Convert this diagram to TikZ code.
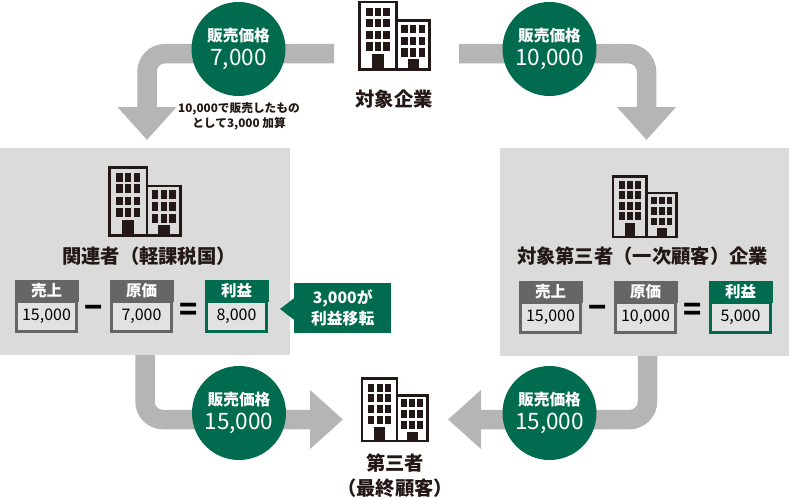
\documentclass[tikz,border=0pt]{standalone}
\usepackage{fontspec}
\setmainfont{Noto Sans CJK JP}
\usetikzlibrary{arrows.meta,positioning}
\definecolor{tgreen}{HTML}{006B4E}
\definecolor{tarrow}{HTML}{B5B5B5}
\definecolor{tpanel}{HTML}{DBDBDB}
\definecolor{tval}{HTML}{E2E2E2}
\definecolor{thead}{HTML}{666666}
\definecolor{tink}{HTML}{231815}
\tikzset{
  flow/.style={draw=tarrow,line width=19.5pt,rounded corners=18pt,-{Triangle[length=33pt,width=57pt]}},
  panel/.style={fill=tpanel,draw=none,inner sep=0pt,anchor=north west},
  pricecircle/.style={circle,fill=tgreen,minimum size=94pt,inner sep=0pt,text=white,align=center},
  lab/.style={text=tink,font=\fontsize{19.3}{25}\selectfont\bfseries,align=center,inner sep=0pt},
  note/.style={text=tink,font=\fontsize{11.7}{15}\selectfont\bfseries,align=center,inner sep=0pt},
  opsign/.style={text=black,font=\fontsize{30}{30}\selectfont\bfseries,inner sep=0pt},
  valbox/.style={fill=tval,draw=#1,line width=3pt,minimum width=60pt,minimum height=30pt,inner sep=0pt,anchor=north west,text=black,font=\fontsize{16}{16}\selectfont},
  headbox/.style={fill=#1,draw=#1,line width=0.5pt,minimum width=62.5pt,minimum height=20.5pt,inner sep=0pt,anchor=north west,text=white,font=\fontsize{15.5}{15.5}\selectfont\bfseries},
  callout/.style={fill=tgreen,text=white,inner sep=0pt,align=center,font=\fontsize{15.8}{21}\selectfont\bfseries},
}
\newcommand{\pricetag}[4]{\node[pricecircle] (#1) at (#2) {\fontsize{15.7}{18}\selectfont\bfseries #3\\[5.5pt]\fontsize{22.6}{23}\selectfont #4};}
\newcommand{\calcbox}[5]{%
  \node[valbox=#2] (#1v) at (#3,#4+20) {\raisebox{-1.2pt}{#5}};}
\newcommand{\calchead}[5]{%
  \node[headbox=#2] (#1h) at (#3,#4) {#5};}
\newcommand{\bldg}[3]{%
 \begin{scope}[shift={(#1,#2)},scale=#3]
  \draw[tink,line width=2.5pt] (1.3,2) rectangle (38.5,69.4);
  \draw[tink,line width=2.5pt] (38.5,20.3) rectangle (71.7,69.4);
  \foreach \xx in {8,16.7,25.3}\foreach \yy in {7.7,18.7,30.7,42}\fill[tink] (\xx,\yy) rectangle ++(6.5,8.6);
  \foreach \xx in {43.3,52,60.7}\foreach \yy in {24.7,36.5,48}\fill[tink] (\xx,\yy) rectangle ++(6.4,8.5);
  \fill[tink] (14.3,54) rectangle (25.7,69.4);
  \fill[tink] (49.7,59.3) rectangle (61,69.4);
 \end{scope}}
\begin{document}
\begin{tikzpicture}[x=1pt,y=-1pt]
\useasboundingbox (0,0) rectangle (790,498);
% panels
\node[panel,minimum width=290pt,minimum height=207pt] (pl) at (0,148) {};
\node[panel,minimum width=289pt,minimum height=208pt] (pr) at (500,148) {};
% connector ends
\coordinate (sl) at (334,53.7);
\coordinate (tl) at (147,140);
\coordinate (sr) at (459,53.7);
\coordinate (tr) at (646.5,140);
\coordinate (bls) at (145,355);
\coordinate (blt) at (343,419.5);
\coordinate (brs) at (647.5,356);
\coordinate (brt) at (448,419.5);
\draw[flow] (sl) -| (tl);
\draw[flow] (sr) -| (tr);
\draw[flow] (bls) |- (blt);
\draw[flow] (brs) |- (brt);
% circles
\pricetag{c1}{238.5,49}{販売価格}{7,000}
\pricetag{c2}{549.5,49}{販売価格}{10,000}
\pricetag{c3}{239,413}{販売価格}{15,000}
\pricetag{c4}{549.5,413}{販売価格}{15,000}
% buildings
\bldg{358}{0}{1}
\bldg{108}{165.5}{1.01}
\bldg{612}{174.5}{0.9}
\bldg{361}{376.5}{0.93}
% labels
\node[lab] (t1) at (394,99) {対象企業};
\node[note] (n1) at (239,116) {10,000で販売したもの\\として3,000 加算};
\node[lab] (t2) at (149,256) {関連者（軽課税国）};
\node[lab] (t3) at (642.5,256) {対象第三者（一次顧客）企業};
\node[lab] (t4) at (395,476) {第三者\\（最終顧客）};
% left calc
\calcbox{a}{thead}{15}{280}{15,000}\calchead{a}{thead}{15}{280}{売上}
\calcbox{b}{thead}{110}{280}{7,000}\calchead{b}{thead}{110}{280}{原価}
\calcbox{e}{tgreen}{205}{280}{8,000}\calchead{e}{tgreen}{205}{280}{利益}
\node[opsign] (m1) at (94,312) {−};
\node[opsign] (q1) at (189,312) {=};
% right calc
\calcbox{f}{thead}{519}{281}{15,000}\calchead{f}{thead}{519}{281}{売上}
\calcbox{g}{thead}{614}{281}{10,000}\calchead{g}{thead}{614}{281}{原価}
\calcbox{h}{tgreen}{709}{281}{5,000}\calchead{h}{tgreen}{709}{281}{利益}
\node[opsign] (m2) at (598,312) {−};
\node[opsign] (q2) at (693,312) {=};
% callout
\node[callout,minimum width=97pt,minimum height=50pt,anchor=north west] (cb) at (294,283) {3,000が\\利益移転};
\fill[tgreen] (295,297.5) -- (280,309) -- (295,320.5) -- cycle;
\end{tikzpicture}
\end{document}
